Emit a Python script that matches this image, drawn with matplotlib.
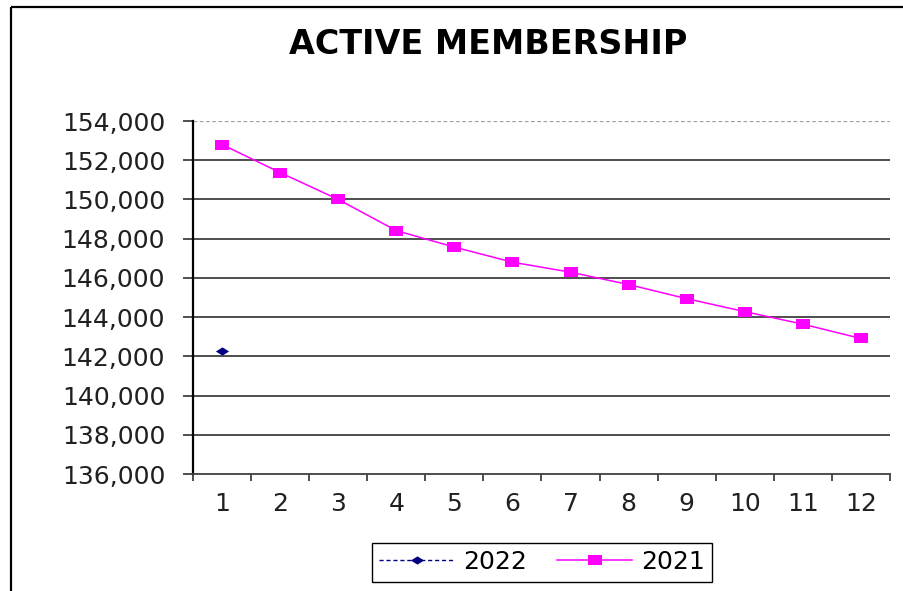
import matplotlib
matplotlib.use('Agg')
import matplotlib.pyplot as plt
from matplotlib.path import Path
from matplotlib.lines import Line2D

# ---- data ----
months = [1, 2, 3, 4, 5, 6, 7, 8, 9, 10, 11, 12]
members_2021 = [152800, 151370, 150000, 148410, 147570, 146800,
                146290, 145660, 144940, 144280, 143640, 142910]
months_2022 = [1]
members_2022 = [142290]
y_ticks = [136000, 138000, 140000, 142000, 144000, 146000, 148000, 150000, 152000, 154000]
title = "ACTIVE MEMBERSHIP"
series_labels = ["2022", "2021"]

plt.rcParams['font.family'] = ['DejaVu Sans']

W, H = 904, 591
fig = plt.figure(figsize=(W / 100, H / 100), dpi=100)

# outer chart frame (only left and top edges visible)
fig.add_artist(Line2D([11 / W, 11 / W], [0, 1 - 7 / H], transform=fig.transFigure,
                      color='black', lw=1.6, solid_capstyle='butt'))
fig.add_artist(Line2D([11 / W, (W - 1) / W], [1 - 7 / H, 1 - 7 / H], transform=fig.transFigure,
                      color='black', lw=1.6, solid_capstyle='butt'))

ax = fig.add_axes([193 / W, 1 - 474 / H, 697 / W, 353 / H])
ax.set_xlim(0.5, 12.5)
ax.set_ylim(y_ticks[0], y_ticks[-1])

# gridlines
for v in y_ticks:
    if v == y_ticks[-1]:
        ax.axhline(v, color='#a0a0a0', lw=0.9, ls=(0, (3, 2)), zorder=1)
    elif v != y_ticks[0]:
        ax.axhline(v, color='#404040', lw=1.3, zorder=1)

# custom stretched markers
sq = Path([(-1.3, -1), (1.3, -1), (1.3, 1), (-1.3, 1), (-1.3, -1)],
          [Path.MOVETO, Path.LINETO, Path.LINETO, Path.LINETO, Path.CLOSEPOLY])
dm = Path([(-1.6, 0), (0, 1), (1.6, 0), (0, -1), (-1.6, 0)],
          [Path.MOVETO, Path.LINETO, Path.LINETO, Path.LINETO, Path.CLOSEPOLY])

l21, = ax.plot(months, members_2021, color='#ff00ff', lw=1.1,
               marker=sq, markersize=9.5, markeredgewidth=0, zorder=3)
l22, = ax.plot(months_2022, members_2022, color='#000080', lw=1.0,
               ls=(0, (3, 2)), marker=dm, markersize=9.5,
               markeredgewidth=0, zorder=3)

for s in ['top', 'right']:
    ax.spines[s].set_visible(False)
ax.spines['left'].set_color('black')
ax.spines['left'].set_linewidth(1.6)
ax.spines['bottom'].set_color('#404040')
ax.spines['bottom'].set_linewidth(1.3)

ax.set_yticks(y_ticks)
ax.set_yticklabels([f"{v:,}" for v in y_ticks], fontsize=18, color='#202020')
ax.tick_params(axis='y', direction='out', length=7, width=1.3, pad=13, color='#404040')

ax.set_xticks([m - 0.5 for m in months] + [months[-1] + 0.5])
ax.set_xticklabels([])
ax.set_xticks(months, minor=True)
ax.set_xticklabels([str(m) for m in months], minor=True, fontsize=18, color='#202020')
ax.tick_params(axis='x', which='major', direction='out', length=5, width=1.3, color='#404040')
ax.tick_params(axis='x', which='minor', length=0, pad=13)

fig.text(488 / W, 1 - 45 / H, title, ha='center', va='center',
         fontsize=24, fontweight='bold', color='black')

leg = fig.legend([l22, l21], series_labels, loc='center',
                 bbox_to_anchor=(542 / W, 1 - 562 / H), ncol=2,
                 fontsize=18, frameon=True, fancybox=False,
                 edgecolor='black', framealpha=1, handlelength=3.0,
                 handletextpad=0.35, columnspacing=1.2, borderpad=0.3,
                 borderaxespad=0)
leg.get_frame().set_linewidth(1.0)

fig.savefig('out.png', dpi=100)
